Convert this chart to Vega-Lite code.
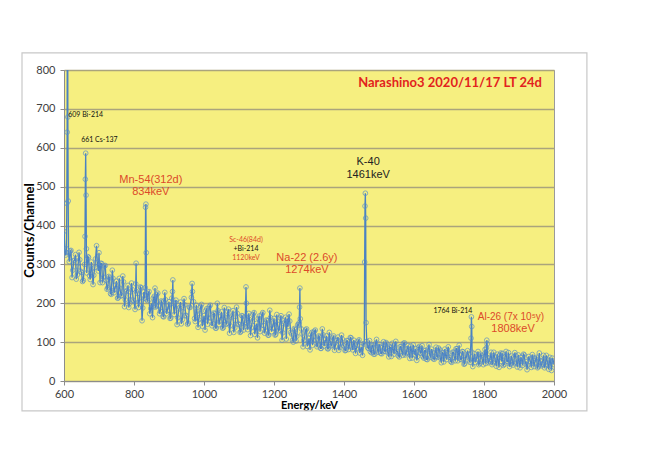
{
  "$schema": "https://vega.github.io/schema/vega-lite/v6.json",
  "width": 490,
  "height": 311,
  "autosize": {"type": "none"},
  "padding": {"left": 64, "top": 70, "right": 96, "bottom": 79},
  "background": "white",
  "config": {
    "view": {"fill": "#f6ef80", "stroke": "#9a9a9a", "strokeWidth": 1},
    "axis": {"labelFont": "Lato", "labelFontSize": 11, "labelColor": "#404040", "titleFont": "Lato", "titleFontSize": 11, "titleFontWeight": "bold", "titleColor": "#000000", "domainColor": "#8c8c8c", "tickColor": "#8c8c8c", "tickSize": 4, "labelOverlap": false, "labelFlush": false, "format": "d"},
    "axisX": {"grid": false, "labelPadding": 3, "titleY": 24, "titleBaseline": "middle", "tickCount": 7},
    "axisY": {"grid": true, "gridColor": "#aaa47c", "gridWidth": 1.3, "labelPadding": 5, "titleFontSize": 13, "titleX": -35, "titleY": 160, "titleBaseline": "middle", "tickCount": 8}
  },
  "data": {"values": [
    {"e":600,"c":385},{"e":605,"c":324},{"e":607,"c":340},{"e":608,"c":457},{"e":609,"c":640},{"e":610,"c":1400},{"e":611,"c":679},{"e":612,"c":463},{"e":613,"c":330},{"e":615,"c":307},
    {"e":620,"c":336},{"e":625,"c":285},{"e":630,"c":311},{"e":635,"c":262},{"e":640,"c":294},{"e":645,"c":312},{"e":650,"c":279},{"e":655,"c":259},{"e":659,"c":300},{"e":660,"c":372},
    {"e":661,"c":519},{"e":662,"c":586},{"e":663,"c":478},{"e":664,"c":340},{"e":665,"c":278},{"e":670,"c":318},{"e":675,"c":261},{"e":680,"c":289},{"e":685,"c":272},{"e":690,"c":314},
    {"e":693,"c":348},{"e":695,"c":305},{"e":700,"c":330},{"e":705,"c":303},{"e":710,"c":253},{"e":715,"c":296},{"e":720,"c":259},{"e":725,"c":240},{"e":730,"c":265},{"e":735,"c":223},
    {"e":740,"c":264},{"e":745,"c":235},{"e":750,"c":257},{"e":755,"c":214},{"e":760,"c":238},{"e":765,"c":220},{"e":770,"c":255},{"e":775,"c":209},{"e":780,"c":233},{"e":785,"c":189},
    {"e":790,"c":219},{"e":795,"c":235},{"e":800,"c":205},{"e":805,"c":250},{"e":806,"c":303},{"e":807,"c":230},{"e":810,"c":225},{"e":815,"c":204},{"e":820,"c":240},{"e":825,"c":188},
    {"e":830,"c":213},{"e":832,"c":240},{"e":833,"c":447},{"e":834,"c":455},{"e":835,"c":330},{"e":836,"c":210},{"e":840,"c":225},{"e":845,"c":173},{"e":850,"c":200},{"e":855,"c":213},
    {"e":859,"c":200},{"e":860,"c":239},{"e":861,"c":190},{"e":865,"c":222},{"e":870,"c":193},{"e":875,"c":179},{"e":880,"c":203},{"e":885,"c":165},{"e":890,"c":209},{"e":895,"c":181},
    {"e":900,"c":204},{"e":905,"c":162},{"e":910,"c":230},{"e":911,"c":260},{"e":912,"c":200},{"e":915,"c":171},{"e":920,"c":208},{"e":925,"c":163},{"e":930,"c":189},{"e":935,"c":147},
    {"e":940,"c":178},{"e":945,"c":196},{"e":950,"c":167},{"e":955,"c":149},{"e":960,"c":189},{"e":964,"c":215},{"e":966,"c":251},{"e":967,"c":230},{"e":970,"c":204},{"e":975,"c":153},
    {"e":980,"c":179},{"e":985,"c":158},{"e":990,"c":191},{"e":995,"c":141},{"e":1000,"c":168},{"e":1005,"c":181},{"e":1010,"c":146},{"e":1015,"c":191},{"e":1020,"c":162},{"e":1025,"c":148},
    {"e":1030,"c":173},{"e":1035,"c":136},{"e":1040,"c":181},{"e":1045,"c":154},{"e":1050,"c":178},{"e":1055,"c":137},{"e":1060,"c":164},{"e":1065,"c":148},{"e":1070,"c":185},{"e":1075,"c":142},
    {"e":1080,"c":168},{"e":1085,"c":125},{"e":1090,"c":156},{"e":1095,"c":174},{"e":1100,"c":145},{"e":1105,"c":127},{"e":1110,"c":167},{"e":1115,"c":146},{"e":1118,"c":165},{"e":1120,"c":242},
    {"e":1121,"c":200},{"e":1122,"c":150},{"e":1125,"c":132},{"e":1130,"c":158},{"e":1135,"c":137},{"e":1140,"c":171},{"e":1145,"c":120},{"e":1150,"c":148},{"e":1155,"c":161},{"e":1160,"c":127},
    {"e":1165,"c":171},{"e":1170,"c":143},{"e":1175,"c":129},{"e":1180,"c":155},{"e":1185,"c":118},{"e":1190,"c":163},{"e":1195,"c":136},{"e":1200,"c":161},{"e":1205,"c":120},{"e":1210,"c":146},
    {"e":1215,"c":131},{"e":1220,"c":168},{"e":1225,"c":124},{"e":1230,"c":151},{"e":1235,"c":108},{"e":1238,"c":160},{"e":1240,"c":140},{"e":1245,"c":154},{"e":1250,"c":121},{"e":1255,"c":100},
    {"e":1260,"c":132},{"e":1265,"c":115},{"e":1270,"c":144},{"e":1272,"c":150},{"e":1273,"c":190},{"e":1274,"c":239},{"e":1275,"c":160},{"e":1280,"c":121},{"e":1285,"c":104},{"e":1290,"c":131},
    {"e":1295,"c":89},{"e":1300,"c":110},{"e":1305,"c":120},{"e":1310,"c":92},{"e":1315,"c":128},{"e":1320,"c":105},{"e":1325,"c":93},{"e":1330,"c":113},{"e":1335,"c":84},{"e":1340,"c":119},
    {"e":1345,"c":97},{"e":1350,"c":116},{"e":1355,"c":83},{"e":1360,"c":105},{"e":1365,"c":92},{"e":1370,"c":116},{"e":1375,"c":89},{"e":1380,"c":105},{"e":1385,"c":79},{"e":1390,"c":97},
    {"e":1395,"c":108},{"e":1400,"c":90},{"e":1405,"c":79},{"e":1410,"c":103},{"e":1415,"c":90},{"e":1420,"c":111},{"e":1425,"c":80},{"e":1430,"c":96},{"e":1435,"c":83},{"e":1440,"c":102},
    {"e":1445,"c":72},{"e":1450,"c":88},{"e":1455,"c":96},{"e":1458,"c":95},{"e":1459,"c":306},{"e":1460,"c":450},{"e":1461,"c":483},{"e":1462,"c":419},{"e":1463,"c":150},{"e":1465,"c":102},
    {"e":1470,"c":84},{"e":1475,"c":76},{"e":1480,"c":92},{"e":1485,"c":69},{"e":1490,"c":96},{"e":1495,"c":80},{"e":1500,"c":95},{"e":1505,"c":71},{"e":1510,"c":86},{"e":1515,"c":77},
    {"e":1520,"c":99},{"e":1525,"c":73},{"e":1530,"c":88},{"e":1535,"c":63},{"e":1540,"c":82},{"e":1545,"c":92},{"e":1550,"c":75},{"e":1555,"c":65},{"e":1560,"c":88},{"e":1565,"c":76},
    {"e":1570,"c":97},{"e":1575,"c":67},{"e":1580,"c":83},{"e":1585,"c":70},{"e":1590,"c":90},{"e":1595,"c":59},{"e":1600,"c":76},{"e":1605,"c":83},{"e":1610,"c":63},{"e":1615,"c":89},
    {"e":1620,"c":72},{"e":1625,"c":63},{"e":1630,"c":78},{"e":1635,"c":56},{"e":1640,"c":82},{"e":1645,"c":67},{"e":1650,"c":82},{"e":1655,"c":57},{"e":1660,"c":72},{"e":1665,"c":63},
    {"e":1670,"c":85},{"e":1675,"c":59},{"e":1680,"c":74},{"e":1685,"c":49},{"e":1690,"c":67},{"e":1695,"c":78},{"e":1700,"c":61},{"e":1705,"c":50},{"e":1710,"c":74},{"e":1715,"c":61},
    {"e":1720,"c":83},{"e":1725,"c":52},{"e":1729,"c":92},{"e":1730,"c":68},{"e":1735,"c":55},{"e":1740,"c":75},{"e":1745,"c":45},{"e":1750,"c":62},{"e":1755,"c":69},{"e":1760,"c":48},
    {"e":1763,"c":110},{"e":1764,"c":165},{"e":1765,"c":140},{"e":1766,"c":74},{"e":1770,"c":56},{"e":1775,"c":48},{"e":1780,"c":64},{"e":1785,"c":42},{"e":1790,"c":69},{"e":1795,"c":54},
    {"e":1800,"c":69},{"e":1805,"c":45},{"e":1807,"c":85},{"e":1808,"c":105},{"e":1809,"c":95},{"e":1810,"c":60},{"e":1815,"c":51},{"e":1820,"c":74},{"e":1825,"c":47},{"e":1830,"c":63},
    {"e":1835,"c":38},{"e":1840,"c":57},{"e":1845,"c":67},{"e":1848,"c":72},{"e":1850,"c":50},{"e":1855,"c":40},{"e":1860,"c":63},{"e":1865,"c":51},{"e":1870,"c":73},{"e":1875,"c":43},
    {"e":1880,"c":59},{"e":1885,"c":46},{"e":1890,"c":66},{"e":1895,"c":36},{"e":1900,"c":53},{"e":1905,"c":61},{"e":1910,"c":40},{"e":1915,"c":67},{"e":1920,"c":50},{"e":1925,"c":41},
    {"e":1930,"c":57},{"e":1935,"c":35},{"e":1940,"c":61},{"e":1945,"c":46},{"e":1950,"c":61},{"e":1955,"c":37},{"e":1960,"c":52},{"e":1965,"c":43},{"e":1970,"c":66},{"e":1975,"c":39},
    {"e":1980,"c":55},{"e":1985,"c":30},{"e":1990,"c":49},{"e":1995,"c":59},{"e":2000,"c":42},
    {"e":603,"c":329},{"e":618,"c":334},{"e":623,"c":266},{"e":628,"c":309},{"e":633,"c":325},{"e":638,"c":273},{"e":643,"c":331},{"e":648,"c":282},{"e":653,"c":256},{"e":668,"c":320},
    {"e":673,"c":271},{"e":678,"c":306},{"e":683,"c":248},{"e":688,"c":292},{"e":698,"c":283},{"e":703,"c":253},{"e":708,"c":302},{"e":713,"c":267},{"e":718,"c":297},{"e":723,"c":236},
    {"e":728,"c":269},{"e":733,"c":225},{"e":738,"c":285},{"e":743,"c":227},{"e":748,"c":246},{"e":753,"c":213},{"e":758,"c":264},{"e":763,"c":219},{"e":768,"c":270},{"e":773,"c":191},
    {"e":778,"c":230},{"e":783,"c":246},{"e":788,"c":200},{"e":793,"c":252},{"e":798,"c":208},{"e":803,"c":184},{"e":813,"c":189},{"e":818,"c":242},{"e":823,"c":155},{"e":828,"c":229},
    {"e":838,"c":207},{"e":843,"c":230},{"e":848,"c":186},{"e":853,"c":163},{"e":858,"c":218},{"e":863,"c":193},{"e":868,"c":226},{"e":873,"c":173},{"e":878,"c":206},{"e":883,"c":166},
    {"e":888,"c":228},{"e":893,"c":173},{"e":898,"c":193},{"e":903,"c":161},{"e":908,"c":213},{"e":918,"c":202},{"e":923,"c":145},{"e":928,"c":185},{"e":933,"c":203},{"e":938,"c":158},
    {"e":943,"c":212},{"e":948,"c":169},{"e":953,"c":146},{"e":958,"c":190},{"e":973,"c":161},{"e":978,"c":195},{"e":983,"c":138},{"e":988,"c":173},{"e":993,"c":197},{"e":998,"c":154},
    {"e":1003,"c":131},{"e":1008,"c":186},{"e":1013,"c":162},{"e":1018,"c":195},{"e":1023,"c":142},{"e":1028,"c":175},{"e":1033,"c":136},{"e":1038,"c":200},{"e":1043,"c":145},{"e":1048,"c":166},
    {"e":1053,"c":136},{"e":1058,"c":189},{"e":1063,"c":146},{"e":1068,"c":179},{"e":1073,"c":123},{"e":1078,"c":164},{"e":1083,"c":181},{"e":1088,"c":137},{"e":1093,"c":190},{"e":1098,"c":147},
    {"e":1103,"c":125},{"e":1108,"c":168},{"e":1113,"c":131},{"e":1123,"c":140},{"e":1128,"c":174},{"e":1133,"c":117},{"e":1138,"c":153},{"e":1143,"c":176},{"e":1148,"c":134},{"e":1153,"c":111},
    {"e":1158,"c":167},{"e":1163,"c":142},{"e":1168,"c":176},{"e":1173,"c":123},{"e":1178,"c":157},{"e":1183,"c":118},{"e":1188,"c":182},{"e":1193,"c":127},{"e":1198,"c":149},{"e":1203,"c":118},
    {"e":1208,"c":171},{"e":1213,"c":129},{"e":1218,"c":162},{"e":1223,"c":105},{"e":1228,"c":147},{"e":1233,"c":164},{"e":1243,"c":172},{"e":1248,"c":125},{"e":1253,"c":105},{"e":1258,"c":135},
    {"e":1263,"c":103},{"e":1268,"c":145},{"e":1278,"c":134},{"e":1283,"c":88},{"e":1288,"c":116},{"e":1293,"c":134},{"e":1298,"c":99},{"e":1303,"c":80},{"e":1308,"c":125},{"e":1313,"c":105},
    {"e":1318,"c":131},{"e":1323,"c":88},{"e":1328,"c":116},{"e":1333,"c":84},{"e":1338,"c":134},{"e":1343,"c":90},{"e":1348,"c":107},{"e":1353,"c":83},{"e":1358,"c":125},{"e":1363,"c":90},
    {"e":1368,"c":112},{"e":1373,"c":79},{"e":1378,"c":103},{"e":1383,"c":113},{"e":1388,"c":86},{"e":1393,"c":118},{"e":1398,"c":91},{"e":1403,"c":78},{"e":1408,"c":104},{"e":1413,"c":81},
    {"e":1418,"c":112},{"e":1423,"c":86},{"e":1428,"c":105},{"e":1433,"c":71},{"e":1438,"c":92},{"e":1443,"c":106},{"e":1448,"c":81},{"e":1453,"c":66},{"e":1468,"c":85},{"e":1473,"c":104},
    {"e":1478,"c":73},{"e":1483,"c":92},{"e":1488,"c":69},{"e":1493,"c":107},{"e":1498,"c":74},{"e":1503,"c":88},{"e":1508,"c":70},{"e":1513,"c":101},{"e":1518,"c":76},{"e":1523,"c":95},
    {"e":1528,"c":62},{"e":1533,"c":86},{"e":1538,"c":97},{"e":1543,"c":69},{"e":1548,"c":102},{"e":1553,"c":76},{"e":1558,"c":62},{"e":1563,"c":89},{"e":1568,"c":66},{"e":1573,"c":98},
    {"e":1578,"c":72},{"e":1583,"c":91},{"e":1588,"c":58},{"e":1593,"c":78},{"e":1598,"c":93},{"e":1603,"c":67},{"e":1608,"c":53},{"e":1613,"c":86},{"e":1618,"c":72},{"e":1623,"c":91},
    {"e":1628,"c":59},{"e":1633,"c":79},{"e":1638,"c":55},{"e":1643,"c":94},{"e":1648,"c":61},{"e":1653,"c":74},{"e":1658,"c":56},{"e":1663,"c":87},{"e":1668,"c":61},{"e":1673,"c":81},
    {"e":1678,"c":47},{"e":1683,"c":72},{"e":1688,"c":82},{"e":1693,"c":55},{"e":1698,"c":88},{"e":1703,"c":61},{"e":1708,"c":48},{"e":1713,"c":74},{"e":1718,"c":52},{"e":1723,"c":83},
    {"e":1733,"c":56},{"e":1738,"c":76},{"e":1743,"c":43},{"e":1748,"c":64},{"e":1753,"c":78},{"e":1758,"c":52},{"e":1768,"c":37},{"e":1773,"c":70},{"e":1778,"c":56},{"e":1783,"c":76},
    {"e":1788,"c":45},{"e":1793,"c":65},{"e":1798,"c":42},{"e":1803,"c":81},{"e":1813,"c":47},{"e":1818,"c":61},{"e":1823,"c":42},{"e":1828,"c":74},{"e":1833,"c":49},{"e":1838,"c":69},
    {"e":1843,"c":35},{"e":1853,"c":71},{"e":1858,"c":43},{"e":1863,"c":76},{"e":1868,"c":50},{"e":1873,"c":37},{"e":1878,"c":64},{"e":1883,"c":41},{"e":1888,"c":73},{"e":1893,"c":47},
    {"e":1898,"c":67},{"e":1903,"c":34},{"e":1908,"c":54},{"e":1913,"c":69},{"e":1918,"c":44},{"e":1923,"c":29},{"e":1928,"c":63},{"e":1933,"c":49},{"e":1938,"c":68},{"e":1943,"c":37},
    {"e":1948,"c":57},{"e":1953,"c":34},{"e":1958,"c":72},{"e":1963,"c":39},{"e":1968,"c":53},{"e":1973,"c":34},{"e":1978,"c":66},{"e":1983,"c":41},{"e":1988,"c":61},{"e":1993,"c":27},
    {"e":1998,"c":52}
  ]},
  "layer": [
    {
      "mark": {"type": "line", "color": "#4a82c2", "strokeWidth": 1.3, "clip": true},
      "encoding": {
        "x": {"field": "e", "type": "quantitative", "title": "Energy/keV", "scale": {"domain": [600, 2000], "nice": false, "zero": false}},
        "y": {"field": "c", "type": "quantitative", "title": "Counts/Channel", "scale": {"domain": [0, 800], "nice": false}}
      }
    },
    {
      "mark": {"type": "point", "filled": false, "color": "#5a8fca", "size": 22, "strokeWidth": 1, "clip": true},
      "encoding": {
        "x": {"field": "e", "type": "quantitative", "title": "Energy/keV"},
        "y": {"field": "c", "type": "quantitative", "title": "Counts/Channel"}
      }
    },
    {
      "data": {"values": [{}]},
      "mark": {"type": "rect", "fill": "transparent", "stroke": "#c8c8c8", "strokeWidth": 1.2},
      "encoding": {"x": {"datum": 480}, "x2": {"datum": 2094}, "y": {"datum": -77}, "y2": {"datum": 844}}
    },
    {
      "data": {"values": [{}]},
      "mark": {"type": "text", "font": "Lato", "fontWeight": "bold", "fontSize": 13, "color": "#e2231d", "align": "center", "baseline": "middle"},
      "encoding": {"x": {"datum": 1703}, "y": {"datum": 766}, "text": {"value": "Narashino3 2020/11/17 LT 24d"}}
    },
    {
      "data": {"values": [{}]},
      "mark": {"type": "text", "font": "Lato", "fontSize": 7, "color": "#111111", "align": "left", "baseline": "middle"},
      "encoding": {"x": {"datum": 612}, "y": {"datum": 684}, "text": {"value": "609 Bi-214"}}
    },
    {
      "data": {"values": [{}]},
      "mark": {"type": "text", "font": "Lato", "fontSize": 7, "color": "#111111", "align": "left", "baseline": "middle"},
      "encoding": {"x": {"datum": 649}, "y": {"datum": 620}, "text": {"value": "661 Cs-137"}}
    },
    {
      "data": {"values": [{}]},
      "mark": {"type": "text", "font": "Liberation Sans", "fontSize": 11, "color": "#dc4a2a", "align": "center", "baseline": "middle"},
      "encoding": {"x": {"datum": 848}, "y": {"datum": 517}, "text": {"value": "Mn-54(312d)"}}
    },
    {
      "data": {"values": [{}]},
      "mark": {"type": "text", "font": "Liberation Sans", "fontSize": 11, "color": "#dc4a2a", "align": "center", "baseline": "middle"},
      "encoding": {"x": {"datum": 848}, "y": {"datum": 486}, "text": {"value": "834keV"}}
    },
    {
      "data": {"values": [{}]},
      "mark": {"type": "text", "font": "Liberation Sans", "fontSize": 11, "color": "#222222", "align": "center", "baseline": "middle"},
      "encoding": {"x": {"datum": 1469}, "y": {"datum": 563}, "text": {"value": "K-40"}}
    },
    {
      "data": {"values": [{}]},
      "mark": {"type": "text", "font": "Liberation Sans", "fontSize": 11, "color": "#222222", "align": "center", "baseline": "middle"},
      "encoding": {"x": {"datum": 1469}, "y": {"datum": 530}, "text": {"value": "1461keV"}}
    },
    {
      "data": {"values": [{}]},
      "mark": {"type": "text", "font": "Lato", "fontSize": 7, "color": "#dc4a2a", "align": "center", "baseline": "middle"},
      "encoding": {"x": {"datum": 1120}, "y": {"datum": 362}, "text": {"value": "Sc-46(84d)"}}
    },
    {
      "data": {"values": [{}]},
      "mark": {"type": "text", "font": "Lato", "fontSize": 7, "color": "#111111", "align": "center", "baseline": "middle"},
      "encoding": {"x": {"datum": 1120}, "y": {"datum": 339}, "text": {"value": "+Bi-214"}}
    },
    {
      "data": {"values": [{}]},
      "mark": {"type": "text", "font": "Lato", "fontSize": 7, "color": "#dc4a2a", "align": "center", "baseline": "middle"},
      "encoding": {"x": {"datum": 1120}, "y": {"datum": 316}, "text": {"value": "1120keV"}}
    },
    {
      "data": {"values": [{}]},
      "mark": {"type": "text", "font": "Liberation Sans", "fontSize": 11, "color": "#dc4a2a", "align": "center", "baseline": "middle"},
      "encoding": {"x": {"datum": 1294}, "y": {"datum": 316}, "text": {"value": "Na-22 (2.6y)"}}
    },
    {
      "data": {"values": [{}]},
      "mark": {"type": "text", "font": "Liberation Sans", "fontSize": 11, "color": "#dc4a2a", "align": "center", "baseline": "middle"},
      "encoding": {"x": {"datum": 1294}, "y": {"datum": 285}, "text": {"value": "1274keV"}}
    },
    {
      "data": {"values": [{}]},
      "mark": {"type": "text", "font": "Lato", "fontSize": 7, "color": "#111111", "align": "center", "baseline": "middle"},
      "encoding": {"x": {"datum": 1711}, "y": {"datum": 180}, "text": {"value": "1764 Bi-214"}}
    },
    {
      "data": {"values": [{}]},
      "mark": {"type": "text", "font": "Liberation Sans", "fontSize": 10, "color": "#dc4a2a", "align": "center", "baseline": "middle"},
      "encoding": {"x": {"datum": 1877}, "y": {"datum": 165}, "text": {"value": "Al-26 (7x 10⁵y)"}}
    },
    {
      "data": {"values": [{}]},
      "mark": {"type": "text", "font": "Liberation Sans", "fontSize": 11, "color": "#dc4a2a", "align": "center", "baseline": "middle"},
      "encoding": {"x": {"datum": 1883}, "y": {"datum": 134}, "text": {"value": "1808keV"}}
    }
  ]
}
